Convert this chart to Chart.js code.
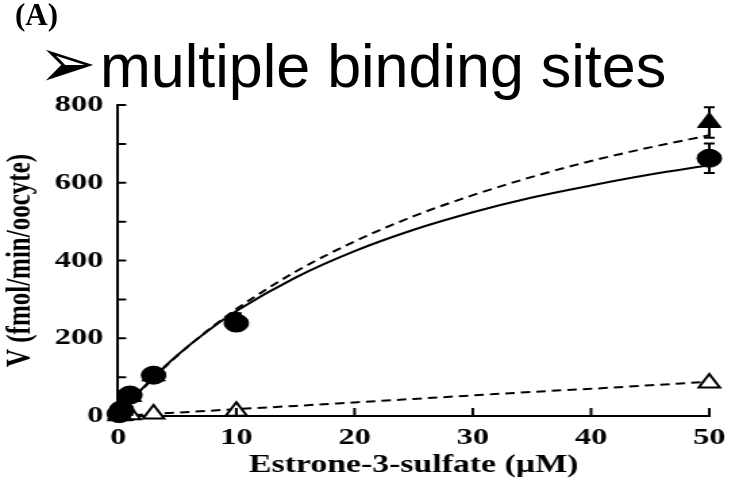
<!DOCTYPE html>
<html>
<head>
<meta charset="utf-8">
<script src="https://cdn.jsdelivr.net/npm/chart.js@4/dist/chart.umd.min.js"></script>
<style>
  body { margin: 0; background: #fff; }
  #lienzo { position: relative; width: 735px; height: 484px; overflow: hidden; background: #fff; }
  #figura { position: absolute; left: 0; top: 0; transform: scaleX(1.351); transform-origin: 0 0; }
  #letra { position: absolute; left: 15px; top: -2px; font: bold 31px "Liberation Serif", serif; line-height: 34px; }
  #titulo { position: absolute; left: 38px; top: 33px; font: 61px "Liberation Sans", Arial, sans-serif; line-height: 60px; white-space: nowrap; }
  #titulo .flecha { display: inline-block; width: 62px; font-family: "DejaVu Sans", sans-serif; font-size: 70px; }
</style>
</head>
<body>
<div id="lienzo">
  <div id="figura"><canvas id="grafico" width="544" height="484"></canvas></div>
  <div id="letra">(A)</div>
  <div id="titulo"><span class="flecha">➢</span>multiple binding sites</div>
</div>
<script>
// Concentraciones de estrona-3-sulfato (µM) y velocidades medidas
const concentraciones = [0.1, 0.3, 1, 3, 10, 50];
const vCirculos = [6, 16, 54, 105, 239, 663];
const errCirculos = [2, 3, 6, 8, 20, 38];
const vTriangulos = [5, 15, 50, 103, 246, 755];
const errTriangulos = [2, 3, 6, 8, 18, 39];
const vTriangulosAbiertos = [0.5, 1, 3, 5, 12, 85];

// Curvas ajustadas
const curvaX = [0, 1, 2, 3, 5, 7.5, 10, 15, 20, 25, 30, 35, 40, 45, 50];
const curvaCirculos = [0, 36, 69, 100, 156, 217, 270, 356, 424, 479, 524, 562, 593, 621, 645];
const curvaTriangulos = [0, 35, 67, 98, 155, 218, 275, 371, 449, 514, 568, 615, 656, 691, 722];
const curvaAbiertos = [0, 1.8, 3.5, 5.3, 8.8, 13, 17.6, 26, 35, 44, 53, 62, 70, 79, 88];

const etiquetasX = [0, 10, 20, 30, 40, 50];
const etiquetasY = [0, 200, 400, 600, 800];
const marcasY = [0, 100, 200, 300, 400, 500, 600, 700, 800];

function puntos(xs, ys) {
  return xs.map((x, i) => ({x: x, y: ys[i]}));
}

// barras de error y marcas hacia dentro de los ejes
const extras = {
  id: 'extras',
  afterDatasetsDraw(chart) {
    const ctx = chart.ctx;
    const x = chart.scales.x, y = chart.scales.y;
    ctx.save();
    ctx.strokeStyle = '#000';
    ctx.lineWidth = 2;
    const barras = [[vCirculos, errCirculos], [vTriangulos, errTriangulos]];
    barras.forEach(([vals, errs]) => {
      concentraciones.forEach((c, i) => {
        const px = x.getPixelForValue(c);
        const arriba = y.getPixelForValue(vals[i] + errs[i]);
        const abajo = y.getPixelForValue(vals[i] - errs[i]);
        ctx.beginPath();
        ctx.moveTo(px, arriba); ctx.lineTo(px, abajo);
        ctx.moveTo(px - 4, arriba); ctx.lineTo(px + 4, arriba);
        ctx.moveTo(px - 4, abajo); ctx.lineTo(px + 4, abajo);
        ctx.stroke();
      });
    });
    ctx.beginPath();
    marcasY.forEach(v => {
      const py = y.getPixelForValue(v);
      ctx.moveTo(x.left, py); ctx.lineTo(x.left + 6, py);
    });
    etiquetasX.forEach(v => {
      const px = x.getPixelForValue(v);
      ctx.moveTo(px, y.bottom); ctx.lineTo(px, y.bottom - 8);
    });
    ctx.stroke();
    ctx.restore();
  }
};

const fuenteEje = {family: 'Liberation Serif', weight: 'bold', size: 24};
const fuenteTitulo = {family: 'Liberation Serif', weight: 'bold', size: 25};

new Chart(document.getElementById('grafico'), {
  type: 'scatter',
  data: {
    datasets: [
      {
        label: 'circulos',
        data: puntos(concentraciones, vCirculos),
        pointStyle: 'circle', pointRadius: 9, pointBackgroundColor: '#000',
        pointBorderColor: '#000', pointBorderWidth: 1, order: 0, clip: false
      },
      {
        label: 'triangulos',
        data: puntos(concentraciones, vTriangulos),
        pointStyle: 'triangle', pointRadius: 10, pointBackgroundColor: '#000',
        pointBorderColor: '#000', pointBorderWidth: 1, order: 1, clip: false
      },
      {
        label: 'triangulos abiertos',
        data: puntos(concentraciones, vTriangulosAbiertos),
        pointStyle: 'triangle', pointRadius: 9, pointBackgroundColor: '#fff',
        pointBorderColor: '#000', pointBorderWidth: 2, order: 2, clip: false
      },
      {
        label: 'ajuste circulos',
        data: puntos(curvaX, curvaCirculos),
        showLine: true, borderColor: '#000', borderWidth: 2, pointRadius: 0,
        cubicInterpolationMode: 'monotone', order: 3
      },
      {
        label: 'ajuste triangulos',
        data: puntos(curvaX, curvaTriangulos),
        showLine: true, borderColor: '#000', borderWidth: 2, borderDash: [7, 4.5], pointRadius: 0,
        cubicInterpolationMode: 'monotone', order: 4
      },
      {
        label: 'ajuste abiertos',
        data: puntos(curvaX, curvaAbiertos),
        showLine: true, borderColor: '#000', borderWidth: 2, borderDash: [7, 4.5], pointRadius: 0,
        cubicInterpolationMode: 'monotone', order: 5
      }
    ]
  },
  options: {
    responsive: false,
    animation: false,
    layout: {padding: {top: 105, right: 12.5, left: 0, bottom: 0}},
    plugins: {legend: {display: false}, tooltip: {enabled: false}},
    scales: {
      x: {
        type: 'linear', min: 0, max: 50,
        afterBuildTicks: (eje) => { eje.ticks = etiquetasX.map(v => ({value: v})); },
        afterFit: (eje) => { eje.height = 68; },
        grid: {display: false, drawTicks: false},
        border: {display: true, color: '#000', width: 2},
        ticks: {color: '#000', font: fuenteEje, padding: 7, maxRotation: 0},
        title: {display: true, text: 'Estrone-3-sulfate (\u00b5M)', color: '#000', font: fuenteTitulo, padding: {top: 0, bottom: 3}}
      },
      y: {
        type: 'linear', min: 0, max: 800,
        afterBuildTicks: (eje) => { eje.ticks = etiquetasY.map(v => ({value: v})); },
        afterFit: (eje) => { eje.width = 87.4; },
        grid: {display: false, drawTicks: false},
        border: {display: true, color: '#000', width: 2},
        ticks: {color: '#000', font: fuenteEje, padding: 11},
        title: {display: true, text: 'V (fmol/min/oocyte)', color: '#000', font: fuenteTitulo, padding: {top: 1, bottom: 0}}
      }
    }
  },
  plugins: [extras]
});
</script>
</body>
</html>
